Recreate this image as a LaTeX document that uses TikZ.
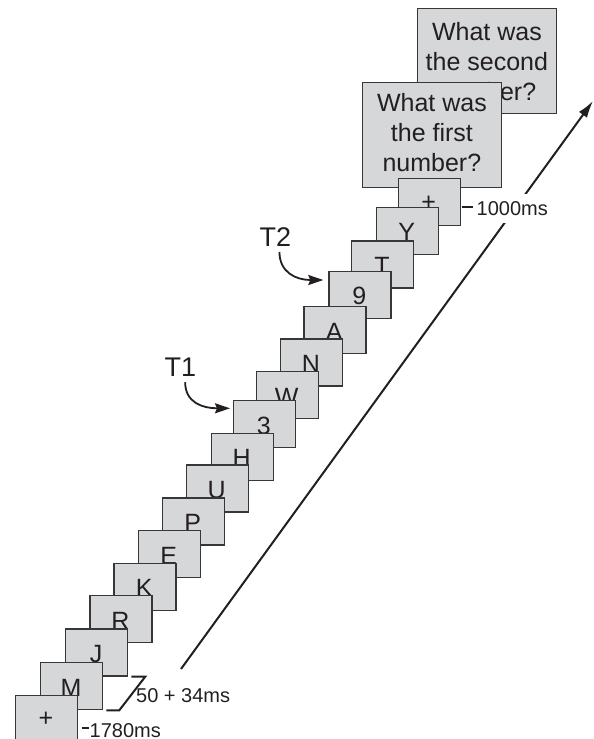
\documentclass[tikz,border=0pt]{standalone}
\usepackage{fontspec}
\setmainfont{Liberation Sans}
\usetikzlibrary{arrows.meta}
\definecolor{boxfill}{RGB}{214,215,217}
\definecolor{boxline}{RGB}{55,55,55}
\definecolor{ink}{RGB}{35,31,32}
\begin{document}
\begin{tikzpicture}[x=1pt,y=-1pt,
  stim/.style={draw=boxline, fill=boxfill, line width=1.3pt, minimum width=62pt, minimum height=47pt, inner sep=0pt, anchor=north west},
  glyph/.style={text=ink, font=\fontsize{25}{30}\selectfont, inner sep=0pt, anchor=base},
  qbox/.style={draw=boxline, fill=boxfill, line width=1.3pt, minimum width=138.5pt, minimum height=105pt, inner sep=0pt, anchor=north west},
  qtext/.style={text=ink, font=\fontsize{25}{30}\selectfont, align=center, inner sep=0pt},
  tlab/.style={text=ink, font=\fontsize{27}{30}\selectfont, inner sep=0pt, anchor=base west},
  msl/.style={text=ink, font=\fontsize{20}{24}\selectfont, inner sep=0pt, anchor=base west},
  lead/.style={draw=ink, line width=2pt},
  tarr/.style={draw=ink, line width=1.8pt, -{Stealth[length=15pt,width=10pt,inset=2pt]}},
  bigarr/.style={draw=ink, line width=2pt, -{Latex[length=17pt,width=10pt]}},
  ]
\useasboundingbox (0,0) rectangle (594,739);

% time axis
\coordinate (ts) at (181,669);
\coordinate (te) at (593,101);
\draw[bigarr] (ts) -- (te);

% question screens
\node[qbox] (q2) at (417,8) {};
\node[qtext] (q2t) at (q2.center) {What was\\the second\\number?};
\node[qbox] (q1) at (362,82) {};
\node[qtext] (q1t) at ([yshift=3pt]q1.center) {What was\\the first\\number?};

% RSVP stream, back to front
\foreach \n/\x/\y/\l/\b in {
  16/397.7/178/+/32pt,
  15/375.7/206.7/Y/34pt,
  14/351/240.3/T/34pt,
  13/328.3/270.7/9/34pt,
  12/303.3/306/A/34pt,
  11/280/338.3/N/34pt,
  10/255.7/371/W/34pt,
  9/232.7/400/3/34pt,
  8/210.7/432.7/H/34pt,
  7/185.7/464.3/U/34pt,
  6/161.7/497.3/P/34pt,
  5/137.7/530/E/34pt,
  4/113.3/562.7/K/34pt,
  3/89.3/595/R/34pt,
  2/65/628.3/J/34pt,
  1/40/662/M/34pt,
  0/15/694.5/+/32pt}{
  \node[stim] (f\n) at (\x,\y) {};
  \node[glyph] (g\n) at ([xshift=31pt,yshift=-\b]f\n.north west) {\l};
}

% timing labels
\node[msl, fill=white, inner xsep=0.5pt, minimum height=29pt] (l1000) at (476,215) {1000ms};
\draw[lead] ([xshift=-14pt,yshift=8.3pt]l1000.base west) -- ([xshift=-3pt,yshift=8.3pt]l1000.base west);

\node[msl] (l1780) at (89.5,737) {1780ms};
\draw[lead] ([xshift=-7.8pt,yshift=9pt]l1780.base west) -- ([xshift=-0.5pt,yshift=9pt]l1780.base west);

\node[msl] (l50) at (136,702) {50 + 34ms};
\draw[lead, line join=miter] ([xshift=3pt]f2.south east) -- ([xshift=17pt]f2.south east) -- ([xshift=16pt]f1.south east) -- ([xshift=3pt]f1.south east);

% targets
\node[tlab] (t1) at (164.5,376) {T1};
\node[tlab] (t2) at (259.5,246) {T2};
\draw[tarr] ([xshift=4.7pt,yshift=-6pt]t1.south) .. controls +(0,20) and +(-28,0) .. ([xshift=-2.7pt,yshift=-8.3pt]f9.north west);
\draw[tarr] ([xshift=4pt,yshift=-5.7pt]t2.south) .. controls +(0,20) and +(-28,0) .. ([xshift=-5pt,yshift=-9.3pt]f13.north west);
\end{tikzpicture}
\end{document}
